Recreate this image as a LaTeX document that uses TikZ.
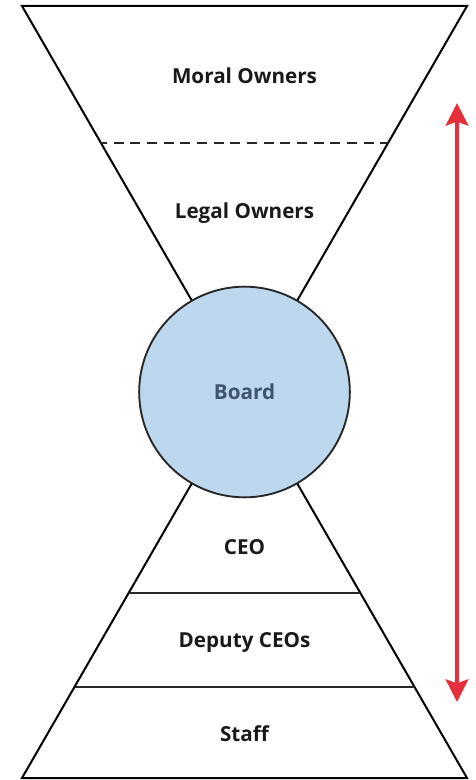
\documentclass[tikz,border=0pt]{standalone}
\usepackage{fontspec}
\setmainfont{Open Sans}
\usetikzlibrary{arrows.meta,calc}
\definecolor{boardfill}{HTML}{BDD7EE}
\definecolor{boardtext}{HTML}{3F5470}
\definecolor{spanred}{HTML}{E5303C}
\tikzset{
  outline/.style={draw=black, line width=1.5pt, line join=miter},
  divider/.style={draw=black!85, line width=1.5pt},
  level/.style={
    font=\bfseries\fontsize{15.5}{17}\selectfont,
    text=black!90,
    inner sep=0pt
  },
  board/.style={
    circle,
    draw=black!85,
    line width=1.4pt,
    fill=boardfill,
    minimum size=158pt,
    inner sep=0pt,
    font=\bfseries\fontsize{15.5}{17}\selectfont,
    text=boardtext
  },
  span/.style={
    {Stealth[width=17pt,length=17pt,inset=3pt]}-{Stealth[width=17pt,length=17pt,inset=3pt]},
    draw=spanred, line width=2.6pt
  }
}

\begin{document}
\begin{tikzpicture}[x=0.75pt, y=-0.75pt]
  \useasboundingbox (0,0) rectangle (475,780);
  % corners of the hourglass, both halves meet in the board's centre
  \coordinate (tl) at (22,6);
  \coordinate (tr) at (467,6);
  \coordinate (bl) at (22,778);
  \coordinate (br) at (467,778);
  \coordinate (c) at (244.5,392);
  \draw[outline] (tl) -- (tr) -- (c) -- cycle;
  \draw[outline] (bl) -- (br) -- (c) -- cycle;
  % layer borders
  \draw[divider, dash pattern=on 7.5pt off 5pt, dash phase=3pt] ($(tl)!0.355!(c)$) -- ($(tr)!0.355!(c)$);
  \draw[divider] ($(bl)!0.236!(c)$) -- ($(br)!0.236!(c)$);
  \draw[divider] ($(bl)!0.479!(c)$) -- ($(br)!0.479!(c)$);
  \node[board] (board) at (c) {Board};
  \node[level] (moral) at (244.5,76) {Moral Owners};
  \node[level] (legal) at (244.5,213) {Legal Owners};
  \node[level] (ceo) at (244.5,547) {CEO};
  \node[level] (deputy) at (244.5,642) {Deputy CEOs};
  \node[level] (staff) at (244.5,734) {Staff};
  % span of the chain
  \coordinate (up) at (457,103);
  \coordinate (down) at (457,702);
  \draw[span] (up) -- (down);
\end{tikzpicture}
\end{document}
